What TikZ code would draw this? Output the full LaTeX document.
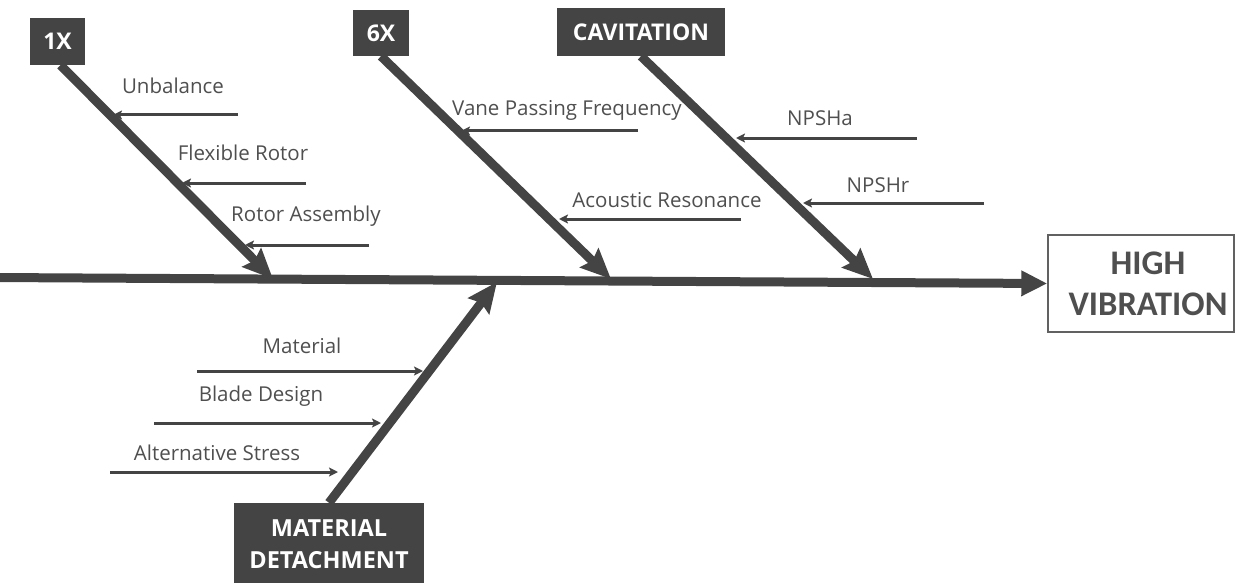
\documentclass[tikz,border=0pt]{standalone}
\usepackage{fontspec}
\setmainfont{Open Sans}
\newfontfamily\hvfont{Carlito}
\usetikzlibrary{arrows.meta}
\definecolor{dk}{HTML}{444444}
\definecolor{lbl}{HTML}{4F4F4F}
\begin{document}
\begin{tikzpicture}[x=1pt,y=-1pt,
  catbox/.style={fill=dk,text=white,font=\fontsize{23}{26}\selectfont\bfseries,inner sep=0pt,align=center},
  bone/.style={draw=dk,line width=9pt,-{Stealth[length=30pt,width=26pt,inset=4pt]}},
  spine/.style={draw=dk,line width=9pt,-{Triangle[length=26pt,width=24pt]}},
  sub/.style={draw=dk,line width=3pt,-{Stealth[length=9pt,width=9pt,inset=2pt]}},
  lab/.style={text=lbl,font=\fontsize{20.5}{24}\selectfont,inner sep=0pt}]
\useasboundingbox (0,0) rectangle (1236,583);
% effect
\node[draw=lbl!90,line width=1.4pt,minimum width=186pt,minimum height=97pt,inner sep=0pt]
  (hv) at (1141,283.5) {};
\node[text=lbl,font=\hvfont\fontsize{34.5}{41}\selectfont\bfseries,align=center,inner sep=0pt]
  (hvt) at ([xshift=7pt]hv.center) {HIGH\\VIBRATION};
\coordinate (s0) at (-5,277.5);
\draw[spine] (s0) -- (hv.west);
% categories
\node[catbox,minimum width=55pt,minimum height=47pt] (b1) at (57.5,41.5) {1X};
\node[catbox,minimum width=56pt,minimum height=46pt] (b6) at (381,33) {6X};
\node[catbox,minimum width=168pt,minimum height=48pt] (bc) at (641,32) {CAVITATION};
\node[catbox,minimum width=190pt,minimum height=82pt,font=\fontsize{23.5}{32}\selectfont\bfseries] (bm) at (329,544) {MATERIAL\\DETACHMENT};
\coordinate (t1) at (273,279);
\coordinate (t6) at (611,279);
\coordinate (tc) at (873,279);
\coordinate (tm) at (497,282);
\draw[bone] ([xshift=3pt]b1.south) -- (t1);
\draw[bone] (b6.south) -- (t6);
\draw[bone] (bc.south) -- (tc);
\draw[bone] (bm.north) -- (tm);
% 1X causes
\node[lab] (l11) at (173,86) {Unbalance};
\node[lab] (l12) at (243,153) {Flexible Rotor};
\node[lab] (l13) at (306,216) {Rotor Assembly};
\coordinate (a11) at (238,115); \coordinate (e11) at (113,115);
\coordinate (a12) at (306,183); \coordinate (e12) at (182,183);
\coordinate (a13) at (369,245); \coordinate (e13) at (245,245);
\draw[sub] (a11) -- (e11);
\draw[sub] (a12) -- (e12);
\draw[sub] (a13) -- (e13);
% 6X causes
\node[lab] (l61) at (567,110) {Vane Passing Frequency};
\node[lab] (l62) at (667,200) {Acoustic Resonance};
\coordinate (a61) at (638,131); \coordinate (e61) at (461,131);
\coordinate (a62) at (741,219); \coordinate (e62) at (559,219);
\draw[sub] (a61) -- (e61);
\draw[sub] (a62) -- (e62);
% cavitation causes
\node[lab] (lc1) at (820,118) {NPSHa};
\node[lab] (lc2) at (878,185) {NPSHr};
\coordinate (ac1) at (917,138); \coordinate (ec1) at (736,138);
\coordinate (ac2) at (984,203); \coordinate (ec2) at (803,203);
\draw[sub] (ac1) -- (ec1);
\draw[sub] (ac2) -- (ec2);
% material detachment causes
\node[lab] (lm1) at (302,346) {Material};
\node[lab] (lm2) at (261,396) {Blade Design};
\node[lab] (lm3) at (217,453) {Alternative Stress};
\coordinate (am1) at (197,371); \coordinate (em1) at (423,371);
\coordinate (am2) at (154,423); \coordinate (em2) at (381,423);
\coordinate (am3) at (110,472); \coordinate (em3) at (338,472);
\draw[sub] (am1) -- (em1);
\draw[sub] (am2) -- (em2);
\draw[sub] (am3) -- (em3);
\end{tikzpicture}
\end{document}
